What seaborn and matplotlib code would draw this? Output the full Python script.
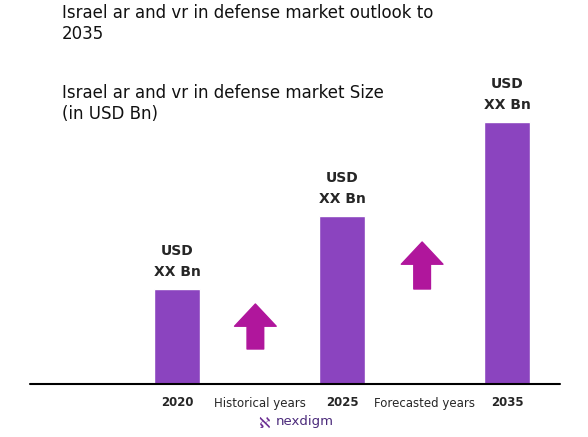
import matplotlib
matplotlib.use("Agg")
import matplotlib.pyplot as plt
import seaborn as sns
import pandas as pd

categories = ["", "2020", "Historical years", "2025", "Forecasted years", "2035"]
values = [0, 95, 0, 168, 0, 262]
bar_labels = ["", "USD\nXX Bn", "", "USD\nXX Bn", "", "USD\nXX Bn"]
title = "Israel ar and vr in defense market outlook to\n2035"
subtitle = "Israel ar and vr in defense market Size\n(in USD Bn)"

W, H = 588, 437
fig = plt.figure(figsize=(W/100, H/100), dpi=100)
sns.set_style("white")
plt.rcParams['font.family'] = ['DejaVu Sans']
ax = fig.add_axes([30/W, (H-384)/H, 530/W, 324/H])
df = pd.DataFrame({"cat": categories, "val": values})
sns.barplot(data=df, x="cat", y="val", order=categories, color="#8B44BF",
            saturation=1, width=0.55, ax=ax)
ax.set_ylim(0, 324)
ax.set_xlim(-0.78, 5.64)
for s in ax.spines.values():
    s.set_visible(False)
ax.set_yticks([])
ax.set_xlabel(""); ax.set_ylabel("")
ax.tick_params(axis="x", length=0, pad=9)
ax.set_xticks(range(len(categories)))
ax.set_xticklabels(categories, fontsize=8.5)
for t in ax.get_xticklabels():
    if t.get_text().isdigit():
        t.set_fontweight("bold")
ax.axhline(0, color="black", lw=1.5, clip_on=False)
for i, (v, l) in enumerate(zip(values, bar_labels)):
    if l:
        ax.text(i, v + 10, l, ha="center", va="bottom", fontsize=10,
                fontweight="bold", linespacing=1.6)
for x, y0, y1 in [(1.95, 35, 80), (3.97, 95, 142)]:
    ax.annotate("", xy=(x, y1), xytext=(x, y0),
                arrowprops=dict(facecolor="#B0169C", edgecolor="#B0169C",
                                width=12, headwidth=30, headlength=16))
fig.text(62/W, 1-4/H, title, ha="left", va="top", fontsize=12, color="#111111")
fig.text(62/W, 1-84/H, subtitle, ha="left", va="top", fontsize=12, color="#111111")
fig.text(264/W, 1-423/H, "\u2135", color="#6A2C91", fontsize=11, ha="center", va="center")
fig.text(276/W, 1-422/H, "nexdigm", color="#4B2A7B", fontsize=9.5, ha="left", va="center")
fig.savefig("out.png", dpi=100)
